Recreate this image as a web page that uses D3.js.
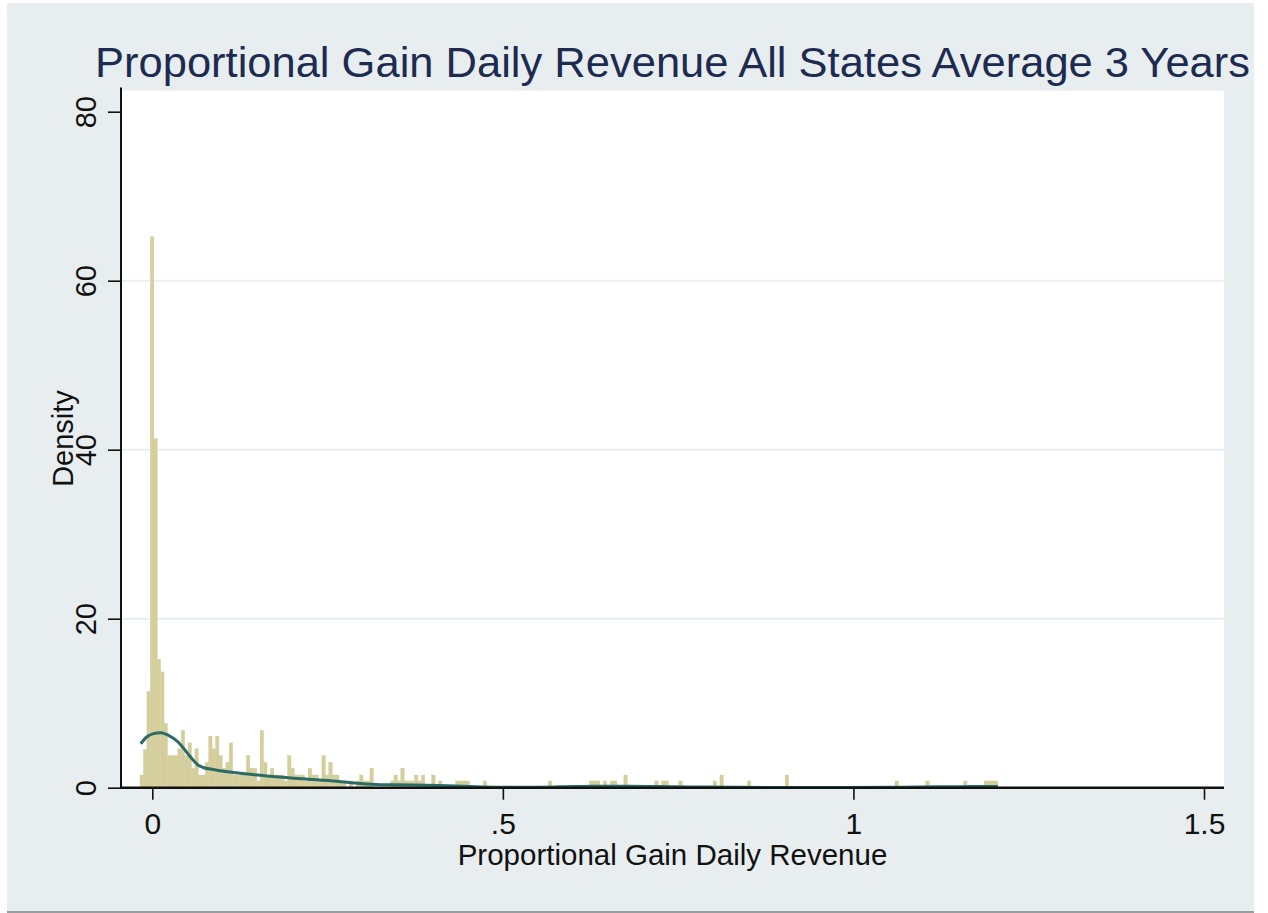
<!DOCTYPE html>
<html>
<head>
<meta charset="utf-8">
<script src="https://cdn.jsdelivr.net/npm/d3@7"></script>
<style>
  html, body { margin: 0; padding: 0; background: #ffffff; }
  svg { display: block; font-family: "Liberation Sans", Arial, Helvetica, sans-serif; }
</style>
</head>
<body>
<svg id="chart" width="1268" height="913"></svg>
<script>
// Histogram bins: 250 equal bins spanning the observed range
const binMin = -0.0175;
const binMax = 1.206;
const binCount = 250;

// Bar heights (density) per bin, left to right
const binDensity = [
  1.5, 4.5, 11.4, 65.2, 41.3, 15.2, 13.7, 7.6, 3.8, 3.8,
  3.8, 4.6, 6.8, 3.8, 5.3, 2.3, 4.6, 1.5, 1.5, 3.0,
  6.1, 4.6, 6.1, 3.8, 2.3, 3.0, 5.3, 1.5, 1.5, 1.5,
  1.5, 3.8, 2.3, 2.3, 0.8, 6.8, 3.0, 1.5, 2.3, 1.5,
  1.5, 1.5, 0.8, 3.8, 2.3, 1.5, 1.5, 1.5, 0.8, 2.3,
  1.5, 1.5, 0.8, 3.8, 1.5, 3.0, 1.5, 1.5, 0.8, 0.8,
  0, 0.8, 0, 0.8, 1.5, 0.8, 0.8, 2.3, 0, 0,
  0, 0, 0, 0.8, 1.5, 0.8, 2.3, 0.8, 0.8, 0.8,
  1.5, 0.8, 1.5, 0, 0, 1.5, 0, 0.8, 0, 0,
  0, 0, 0.8, 0.8, 0.8, 0.8, 0, 0, 0, 0,
  0.8, 0, 0, 0, 0, 0, 0, 0, 0, 0,
  0, 0, 0, 0, 0, 0, 0, 0, 0, 0.8,
  0, 0, 0, 0, 0, 0, 0, 0, 0, 0,
  0, 0.8, 0.8, 0.8, 0, 0.8, 0, 0.8, 0.8, 0,
  0, 1.5, 0, 0, 0, 0, 0, 0, 0, 0,
  0.8, 0, 0.8, 0.8, 0, 0, 0, 0.8, 0, 0,
  0, 0, 0, 0, 0, 0, 0, 0.8, 0, 1.5,
  0, 0, 0, 0, 0, 0, 0, 0.8, 0, 0,
  0, 0, 0, 0, 0, 0, 0, 0, 1.5, 0,
  0, 0, 0, 0, 0, 0, 0, 0, 0, 0,
  0, 0, 0, 0, 0, 0, 0, 0, 0, 0,
  0, 0, 0, 0, 0, 0, 0, 0, 0, 0,
  0.8, 0, 0, 0, 0, 0, 0, 0, 0, 0.8,
  0, 0, 0, 0, 0, 0, 0, 0, 0, 0,
  0.8, 0, 0, 0, 0, 0, 0.8, 0.8, 0.8, 0.8
];

// Kernel density estimate, sampled along the x range
const kdeX = [-0.0165, -0.008, 0.0015, 0.012, 0.023, 0.037, 0.049, 0.0585, 0.0656, 0.0727,
              0.087, 0.12, 0.168, 0.215, 0.263, 0.296, 0.325, 0.37, 0.41, 0.453,
              0.496, 0.535, 0.58, 0.63, 0.68, 0.72, 0.77, 0.84, 0.91, 0.98,
              1.06, 1.12, 1.17, 1.206];
const kdeY = [5.2, 6.0, 6.4, 6.5, 6.2, 5.4, 4.2, 3.25, 2.66, 2.39,
              2.15, 1.76, 1.36, 1.05, 0.77, 0.49, 0.36, 0.33, 0.26, 0.14,
              0.06, 0.06, 0.1, 0.18, 0.18, 0.14, 0.08, 0.04, 0.02, 0.02,
              0.06, 0.1, 0.13, 0.14];

const xTicks = [0, 0.5, 1, 1.5];
const xTickLabels = ["0", ".5", "1", "1.5"];
const yTicks = [0, 20, 40, 60, 80];
const yTickLabels = ["0", "20", "40", "60", "80"];

const titleText = "Proportional Gain Daily Revenue All States Average 3 Years";
const xTitle = "Proportional Gain Daily Revenue";
const yTitle = "Density";

const svg = d3.select("#chart");

// Graph region background
svg.append("rect").attr("x", 7).attr("y", 3).attr("width", 1247).attr("height", 908).attr("fill", "#e8eeef");
svg.append("rect").attr("x", 7).attr("y", 911).attr("width", 1247).attr("height", 2).attr("fill", "#9a9d9f");

// Plot region
const plot = { left: 121, right: 1224, top: 90.5, bottom: 787.7 };
svg.append("rect")
  .attr("x", plot.left).attr("y", plot.top)
  .attr("width", plot.right - plot.left).attr("height", plot.bottom - plot.top)
  .attr("fill", "#ffffff");

const x = d3.scaleLinear().domain([0, 1.5]).range([152.3, 1204]);
const y = d3.scaleLinear().domain([0, 80]).range([787.7, 111.7]);

// Horizontal grid lines
svg.append("g").selectAll("line")
  .data(yTicks.filter(d => d > 0 && d < 80))
  .join("line")
  .attr("x1", plot.left).attr("x2", plot.right)
  .attr("y1", d => y(d)).attr("y2", d => y(d))
  .attr("stroke", "#e9eff0").attr("stroke-width", 2);

// Histogram bars
const binWidth = (binMax - binMin) / binCount;
const bins = binDensity.map((d, i) => ({ x0: binMin + i * binWidth, x1: binMin + (i + 1) * binWidth, d }));
svg.append("g").selectAll("rect")
  .data(bins.filter(b => b.d > 0))
  .join("rect")
  .attr("x", b => x(b.x0))
  .attr("width", b => x(b.x1) - x(b.x0))
  .attr("y", b => y(b.d))
  .attr("height", b => y(0) - y(b.d))
  .attr("fill", "#d4cd9c")
  .attr("stroke", "#d4cd9c").attr("stroke-width", 0.4);

// Kernel density line
const kde = kdeX.map((v, i) => [v, kdeY[i]]);
svg.append("path")
  .datum(kde)
  .attr("fill", "none")
  .attr("stroke", "#2b6b67")
  .attr("stroke-width", 3)
  .attr("stroke-linejoin", "round")
  .attr("d", d3.line().x(d => x(d[0])).y(d => y(d[1])).curve(d3.curveMonotoneX));

// Y axis
const yAxis = svg.append("g").attr("transform", `translate(${plot.left},0)`)
  .call(d3.axisLeft(y).tickValues(yTicks).tickFormat((d, i) => yTickLabels[i]).tickSize(13).tickPadding(0));
yAxis.select(".domain").remove();
yAxis.append("line").attr("x1", 0).attr("x2", 0).attr("y1", plot.top - 3).attr("y2", plot.bottom + 1)
  .attr("stroke", "#111").attr("stroke-width", 2);
yAxis.selectAll(".tick line").attr("stroke", "#111").attr("stroke-width", 1.6);
yAxis.selectAll(".tick text")
  .attr("font-size", 29).attr("fill", "#111")
  .attr("text-anchor", "middle")
  .attr("x", null).attr("dy", null)
  .attr("transform", "translate(-25,0) rotate(-90)");

// X axis
const xAxis = svg.append("g").attr("transform", `translate(0,${plot.bottom})`)
  .call(d3.axisBottom(x).tickValues(xTicks).tickFormat((d, i) => xTickLabels[i]).tickSize(12).tickPadding(0));
xAxis.select(".domain").remove();
xAxis.append("line").attr("x1", plot.left - 1).attr("x2", plot.right).attr("y1", 0).attr("y2", 0)
  .attr("stroke", "#111").attr("stroke-width", 2.4);
xAxis.selectAll(".tick line").attr("stroke", "#111").attr("stroke-width", 1.6);
xAxis.selectAll(".tick text")
  .attr("font-size", 30).attr("fill", "#111")
  .attr("y", 46).attr("dy", null);

// Axis titles
svg.append("text")
  .attr("x", 672.5).attr("y", 865)
  .attr("text-anchor", "middle").attr("font-size", 29.5).attr("fill", "#111")
  .text(xTitle);
svg.append("text")
  .attr("transform", "translate(73,438.5) rotate(-90)")
  .attr("text-anchor", "middle").attr("font-size", 29).attr("fill", "#111")
  .text(yTitle);

// Chart title
svg.append("text")
  .attr("x", 95).attr("y", 77)
  .attr("font-size", 42).attr("fill", "#1c2b4f")
  .attr("textLength", 1155).attr("lengthAdjust", "spacingAndGlyphs")
  .text(titleText);
</script>
</body>
</html>
